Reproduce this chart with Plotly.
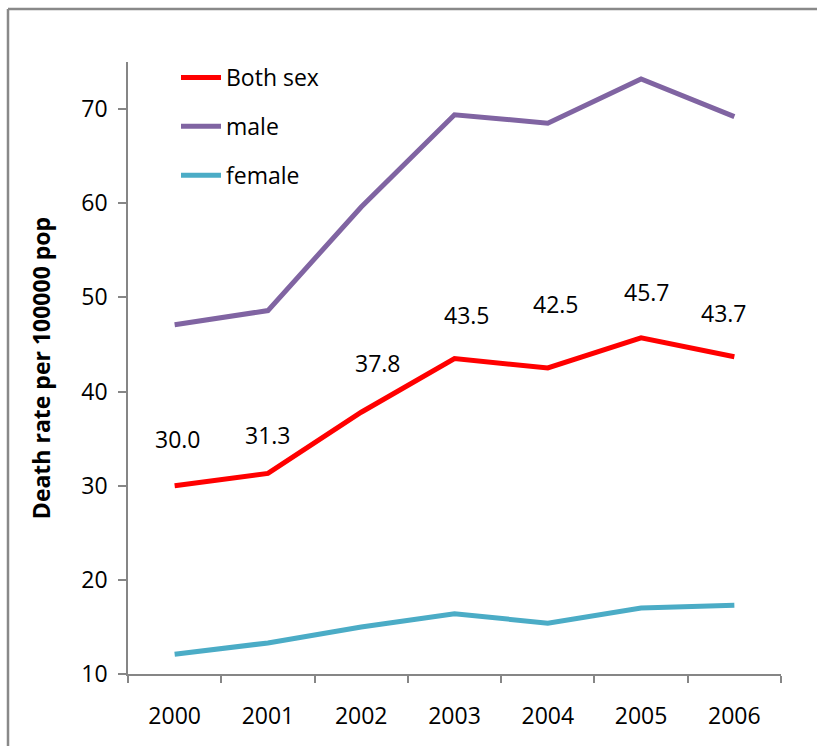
import plotly.graph_objects as go

years = ["2000", "2001", "2002", "2003", "2004", "2005", "2006"]
both_sex = [30.0, 31.3, 37.8, 43.5, 42.5, 45.7, 43.7]
male = [47.1, 48.6, 59.6, 69.4, 68.5, 73.2, 69.2]
female = [12.1, 13.3, 15.0, 16.4, 15.4, 17.0, 17.3]
y_ticks = [10, 20, 30, 40, 50, 60, 70]

# label offsets (pixels) for the Both sex data labels
label_dx = [3, 0, 17, 12, 8, 6, -10]
label_dy = [47, 38, 49, 44, 64, 46, 44]

W, H = 817, 746
L, R, T, B = 128, 36, 62, 72
pw, ph = W - L - R, H - T - B

FONT = "Open Sans"
FS = 23

fig = go.Figure()
series = [("Both sex", both_sex, "#FF0000"),
          ("male", male, "#8064A2"),
          ("female", female, "#4BACC6")]
for i, (name, vals, col) in enumerate(series):
    fig.add_trace(go.Scatter(x=years, y=vals, mode="lines", name=name,
                             legendgroup=name,
                             line=dict(color=col, width=5)))

for i, (y, dx, dy) in enumerate(zip(both_sex, label_dx, label_dy)):
    fig.add_annotation(x=i, y=y, xref="x", yref="y", text=f"{y:.1f}",
                       showarrow=False, xshift=dx, yshift=dy,
                       font=dict(family=FONT, size=FS, color="#000000"))

# outer chart border (left and top edges; the rest lies outside the picture)
bx0 = (8 - L) / pw
by1 = 1 + (T - 9) / ph
fig.add_shape(type="line", xref="paper", yref="paper",
              x0=bx0, x1=bx0, y0=-(B + 20) / ph, y1=by1,
              line=dict(color="#898989", width=2.5), layer="below")
fig.add_shape(type="line", xref="paper", yref="paper",
              x0=bx0, x1=(W + 40 - L) / pw, y0=by1, y1=by1,
              line=dict(color="#898989", width=2.5), layer="below")

fig.update_layout(
    width=W, height=H,
    margin=dict(l=L, r=R, t=T, b=B, autoexpand=False),
    paper_bgcolor="white", plot_bgcolor="white",
    font=dict(family=FONT, size=FS, color="#000000"),
    showlegend=True,
    legend=dict(x=(176 - L) / pw, y=1 + 6 / ph, xanchor="left", yanchor="top",
                bgcolor="rgba(0,0,0,0)", tracegroupgap=16,
                font=dict(family=FONT, size=FS, color="#000000"),
                itemwidth=40),
    xaxis=dict(type="category", range=[-0.5, 6.5], showline=True,
               linecolor="#868686", linewidth=1.5, ticks="outside",
               tickson="boundaries", ticklen=7, tickcolor="#868686",
               tickwidth=1.5, showgrid=False, zeroline=False,
               ticklabelstandoff=21,
               tickfont=dict(family=FONT, size=FS)),
    yaxis=dict(range=[10, 75], tickvals=y_ticks, showline=True,
               linecolor="#868686", linewidth=1.5, ticks="outside",
               ticklen=8, tickcolor="#868686", tickwidth=1.5,
               showgrid=False, zeroline=False, ticklabelstandoff=6,
               tickfont=dict(family=FONT, size=FS),
               title=dict(text="<b>Death rate per 100000 pop</b>",
                          standoff=24,
                          font=dict(family=FONT, size=23))),
)

fig.write_html(
    "out.html", config={"displayModeBar": False},
    post_script="document.body.style.margin='0px';"
                "document.body.style.overflow='hidden';"
                "document.documentElement.style.overflow='hidden';")
